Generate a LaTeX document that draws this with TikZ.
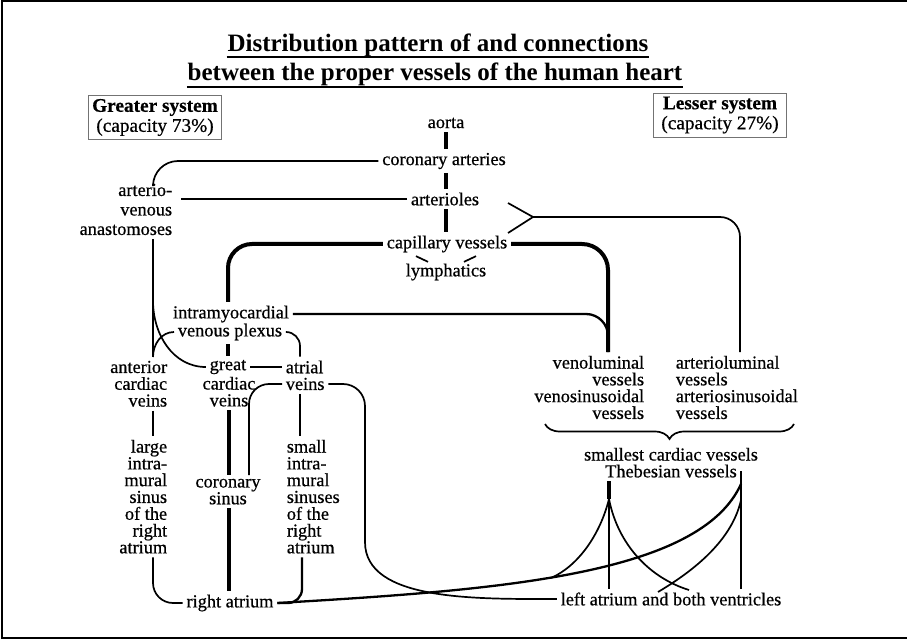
\documentclass[tikz,border=0pt]{standalone}
\usepackage{fontspec}
\setmainfont{Liberation Serif}
\newfontfamily\vfont{Liberation Serif}[FakeBold=0.6]
\usetikzlibrary{decorations.pathreplacing}

\newcommand{\vtext}{\vfont\fontsize{18.3}{16.8}\selectfont}
\newcommand{\titletext}{\bfseries\fontsize{25}{28}\selectfont}
\newcommand{\systext}{\vfont\fontsize{19.3}{20}\selectfont}

\begin{document}
\begin{tikzpicture}[x=1pt,y=1pt,line width=1.7pt]
\tikzstyle{every node}+=[inner sep=3pt,font=\vtext]
\tikzstyle{trunk}=[line width=4pt]
\tikzstyle{mid}=[line width=2.3pt]
\tikzstyle{sysbox}=[draw=black!55,line width=0.8pt,align=center,inner sep=1pt,minimum width=133pt,minimum height=44pt,font=\systext]
\useasboundingbox (0,0) rectangle (907,-644);
\draw[line width=2pt] (910,-1.5) -- (1.5,-1.5) -- (1.5,-638) -- (910,-638);
\node[font=\titletext,inner sep=0pt,anchor=base] (t1) at (438,-52) {Distribution pattern of and connections};
\node[font=\titletext,inner sep=0pt,anchor=base] (t2) at (435,-81) {between the proper vessels of the human heart};
\draw[line width=1.2pt] ([yshift=-5pt]t1.base west) -- ([yshift=-5pt]t1.base east);
\draw[line width=1.2pt] ([yshift=-6pt]t2.base west) -- ([yshift=-6pt]t2.base east);
\node[sysbox] (greater) at (155,-117.5) {{\bfseries Greater system}\\(capacity 73\%)};
\node[sysbox] (lesser) at (720,-115) {{\bfseries Lesser system}\\(capacity 27\%)};
\node (aorta) at (446,-123) {aorta};
\node (cor) at (444,-161) {coronary arteries};
\node (artl) at (445,-199) {arterioles};
\node (cap) at (447,-244) {capillary vessels};
\node (lymph) at (446,-272) {lymphatics};
\draw[trunk] (446,0 |- aorta.south) -- (446,0 |- cor.north);
\draw[trunk] (446,0 |- cor.south) -- (446,0 |- artl.north);
\draw[trunk] (446,0 |- artl.south) -- (446,0 |- cap.north);
\draw ([xshift=-31pt]cap.south) -- ([xshift=-18pt,yshift=-2pt]lymph.north);
\draw ([xshift=29pt]cap.south) -- ([xshift=18pt,yshift=-2pt]lymph.north);
\node[align=right,anchor=north east,font=\vfont\fontsize{18.3}{19.5}\selectfont] (avana) at (176,-180) {arterio-\\venous\\anastomoses};
\draw[rounded corners=25pt,shorten >=4pt] (cor.west) -| (153,0 |- avana.north);
\draw[shorten >=5pt] (artl.west) -- (artl.west -| avana.east);
\node (intra) at (231,-314) {intramyocardial};
\node (plexus) at (230,-332) {venous plexus};
\draw[trunk,rounded corners=24pt] (cap.west) -| (228,0 |- intra.north);
\node[align=right,anchor=north east] (ant) at (171,-357) {anterior\\cardiac\\veins};
\node (great) at (228,-367) {great};
\node[align=center,anchor=north] (gcv) at (229,-373) {cardiac\\veins};
\node[anchor=west] (atrial) at (282,-367) {atrial};
\node[anchor=west] (atrv) at (282,-384) {veins};
\draw (153,0 |- avana.south) -- (153,0 |- ant.north);
\draw (153,0 |- avana.south) ++(0,-62) to[out=-90,in=180] (great.west);
\draw (plexus.west) to[out=180,in=90] (153,0 |- ant.north);
\draw[trunk] (228,0 |- plexus.south) -- (228,0 |- great.north);
\draw (great.east) -- (great.east -| atrial.west);
\draw[rounded corners=14pt] (plexus.east) -| (300,0 |- atrial.north);
\node[align=right,anchor=north east] (large) at (171,-436) {large\\intra-\\mural\\sinus\\of the\\right\\atrium};
\node[align=left,anchor=north west] (small) at (283,-436) {small\\intra-\\mural\\sinuses\\of the\\right\\atrium};
\node[align=center,anchor=north] (cs) at (228,-475) {coronary\\sinus};
\node (ra) at (230,-603) {right atrium};
\draw (153,0 |- ant.south) -- (153,0 |- large.north);
\draw (300,0 |- atrv.south) -- (300,0 |- small.north);
\draw[rounded corners=20pt] (atrv.west) -| (249,0 |- cs.north);
\draw[trunk] (229,0 |- gcv.south) -- (229,0 |- cs.north);
\draw[trunk] (229,0 |- cs.south) -- (229,0 |- ra.north);
\draw[rounded corners=20pt] (153,0 |- large.south) |- (ra.west);
\draw[mid,rounded corners=14pt] (302,0 |- small.south) |- (ra.east);
\node[align=right,anchor=north east] (veno) at (648,-352) {venoluminal\\vessels\\venosinusoidal\\vessels};
\node[align=left,anchor=north west] (arterio) at (672,-352) {arterioluminal\\vessels\\arteriosinusoidal\\vessels};
\draw[mid,rounded corners=22pt] (intra.east) -| (608,0 |- veno.north);
\draw[trunk,rounded corners=26pt] (cap.east) -| (608,0 |- veno.north);
\coordinate (fork) at (533,-217);
\draw (fork) -- (508,-203) (fork) -- (508,-233);
\draw[rounded corners=20pt] (fork) -| (740,0 |- arterio.north);
\draw[decorate,decoration={brace,amplitude=15pt}] (794,-424) -- (545,-424);
\node[anchor=north,align=center] (smv) at (671,-444) {smallest cardiac vessels\\Thebesian vessels};
\node (la) at (671,-599) {left atrium and both ventricles};
\draw[rounded corners=22pt] (atrv.east) -| (365,-520) to[out=-90,in=180] (la.west);
\coordinate (apexM) at (609,-499);
\coordinate (apexR) at (741,-484);
\coordinate (apexR2) at (741,-500);
\coordinate (joinL) at (551,-578);
\draw[trunk] (609,0 |- smv.south) -- (apexM);
\draw (apexM) -- (609,0 |- la.north);
\draw (741,0 |- smv.south) ++(0,10) -- (741,0 |- la.north);
\draw[mid] (ra.east) .. controls (500,-590) and (700,-575) .. (apexR);
\draw (apexM) .. controls (600,-535) and (578,-566) .. (joinL);
\draw (apexM) .. controls (618,-545) and (650,-578) .. (689,-590);
\draw (apexR2) .. controls (732,-540) and (695,-570) .. (658,-592);
\end{tikzpicture}
\end{document}
